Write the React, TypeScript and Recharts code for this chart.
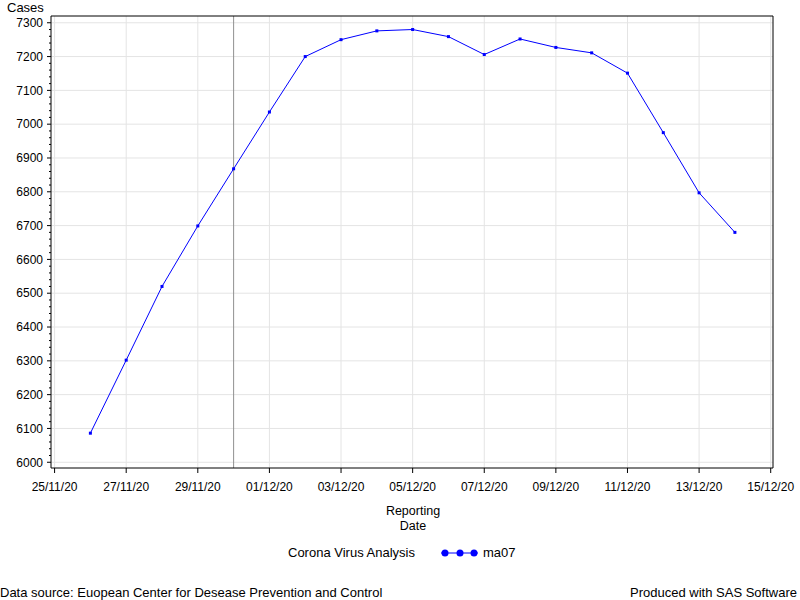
// moving average of reported cases, SAS-style line plot
import { CartesianGrid, Line, LineChart, ReferenceLine, XAxis, YAxis } from "recharts";

const dayIndex = [1, 2, 3, 4, 5, 6, 7, 8, 9, 10, 11, 12, 13, 14, 15, 16, 17, 18, 19];
const reportDates = [
  "26/11/20", "27/11/20", "28/11/20", "29/11/20", "30/11/20", "01/12/20", "02/12/20",
  "03/12/20", "04/12/20", "05/12/20", "06/12/20", "07/12/20", "08/12/20", "09/12/20",
  "10/12/20", "11/12/20", "12/12/20", "13/12/20", "14/12/20",
];
const ma07 = [
  6086, 6302, 6520, 6699, 6868, 7036, 7200, 7250, 7276, 7280, 7259, 7206, 7252, 7227,
  7211, 7151, 6975, 6797, 6680,
];

const xTickDays = [0, 2, 4, 6, 8, 10, 12, 14, 16, 18, 20];
const xTickLabels = [
  "25/11/20", "27/11/20", "29/11/20", "01/12/20", "03/12/20", "05/12/20",
  "07/12/20", "09/12/20", "11/12/20", "13/12/20", "15/12/20",
];
const yMajor = [6000, 6100, 6200, 6300, 6400, 6500, 6600, 6700, 6800, 6900, 7000, 7100, 7200, 7300];
const yMinor = yMajor.flatMap((v) => (v < 7300 ? [v, v + 20, v + 40, v + 60, v + 80] : [v]));

const refDay = 5; // 30/11/20
const xDomain: [number, number] = [-0.1, 20.064];
const yDomain: [number, number] = [5983, 7320];

const data = dayIndex.map((d, i) => ({ day: d, date: reportDates[i], ma07: ma07[i] }));

const font = '"Liberation Sans", Arial, sans-serif';

function YTick(props: any) {
  const { x, y, payload } = props;
  const major = payload.value % 100 === 0;
  return (
    <g>
      <line x1={x - (major ? 4 : 2)} x2={x} y1={y} y2={y} stroke="#000" />
      {major && (
        <text x={x - 8} y={y} dy="0.355em" textAnchor="end" fontSize={12} fill="#000">
          {payload.value}
        </text>
      )}
    </g>
  );
}

function Marker(props: any) {
  const { cx, cy } = props;
  return <rect x={cx - 1.5} y={cy - 1.5} width={3} height={3} fill="#0000ff" />;
}

export default function App() {
  return (
    <div style={{ position: "absolute", left: 0, top: 0, width: 800, height: 600, background: "#fff", fontFamily: font, color: "#000" }}>
      <LineChart width={800} height={600} data={data} margin={{ top: 16, right: 27, bottom: 102, left: 0 }} style={{ fontFamily: font }}>
        <CartesianGrid stroke="#e4e4e4" horizontalValues={yMajor} verticalValues={xTickDays} />
        <XAxis
          dataKey="day"
          type="number"
          domain={xDomain}
          allowDataOverflow
          ticks={xTickDays}
          interval={0}
          height={30}
          tickSize={5}
          tickMargin={9}
          tickFormatter={(v: number) => xTickLabels[xTickDays.indexOf(v)] ?? ""}
          tick={{ fill: "#000", fontSize: 12 }}
          stroke="#000"
        />
        <YAxis
          type="number"
          domain={yDomain}
          allowDataOverflow
          ticks={yMinor}
          interval={0}
          width={51}
          tickSize={0}
          tickMargin={0}
          tickLine={false}
          tick={<YTick />}
          stroke="#000"
        />
        <ReferenceLine x={refDay} stroke="#909090" />
        <ReferenceLine y={yDomain[1]} stroke="#000" />
        <ReferenceLine x={xDomain[1]} stroke="#000" />
        <Line
          type="linear"
          dataKey="ma07"
          stroke="#0000ff"
          strokeWidth={1}
          dot={<Marker />}
          activeDot={false}
          isAnimationActive={false}
        />
      </LineChart>

      <div style={{ position: "absolute", left: 7, top: 0, fontSize: 13, lineHeight: "15px" }}>Cases</div>

      <div style={{ position: "absolute", left: 363, width: 100, top: 504, fontSize: 12.5, lineHeight: "15px", textAlign: "center" }}>
        Reporting
        <br />
        Date
      </div>

      <div style={{ position: "absolute", left: 288, top: 545, fontSize: 13, lineHeight: "15px", display: "flex", alignItems: "center" }}>
        <span>Corona Virus Analysis</span>
        <svg width={38} height={10} style={{ marginLeft: 26 }}>
          <line x1={0} x2={37} y1={5} y2={5} stroke="#0000ff" strokeWidth={1} />
          <circle cx={4} cy={5} r={3.5} fill="#0000ff" />
          <circle cx={19} cy={5} r={3.5} fill="#0000ff" />
          <circle cx={33} cy={5} r={3.5} fill="#0000ff" />
        </svg>
        <span style={{ marginLeft: 4 }}>ma07</span>
      </div>

      <div style={{ position: "absolute", left: 0, top: 585, fontSize: 13, lineHeight: "15px" }}>
        Data source: Euopean Center for Desease Prevention and Control
      </div>
      <div style={{ position: "absolute", right: 3, top: 585, fontSize: 13, lineHeight: "15px" }}>Produced with SAS Software</div>
    </div>
  );
}
